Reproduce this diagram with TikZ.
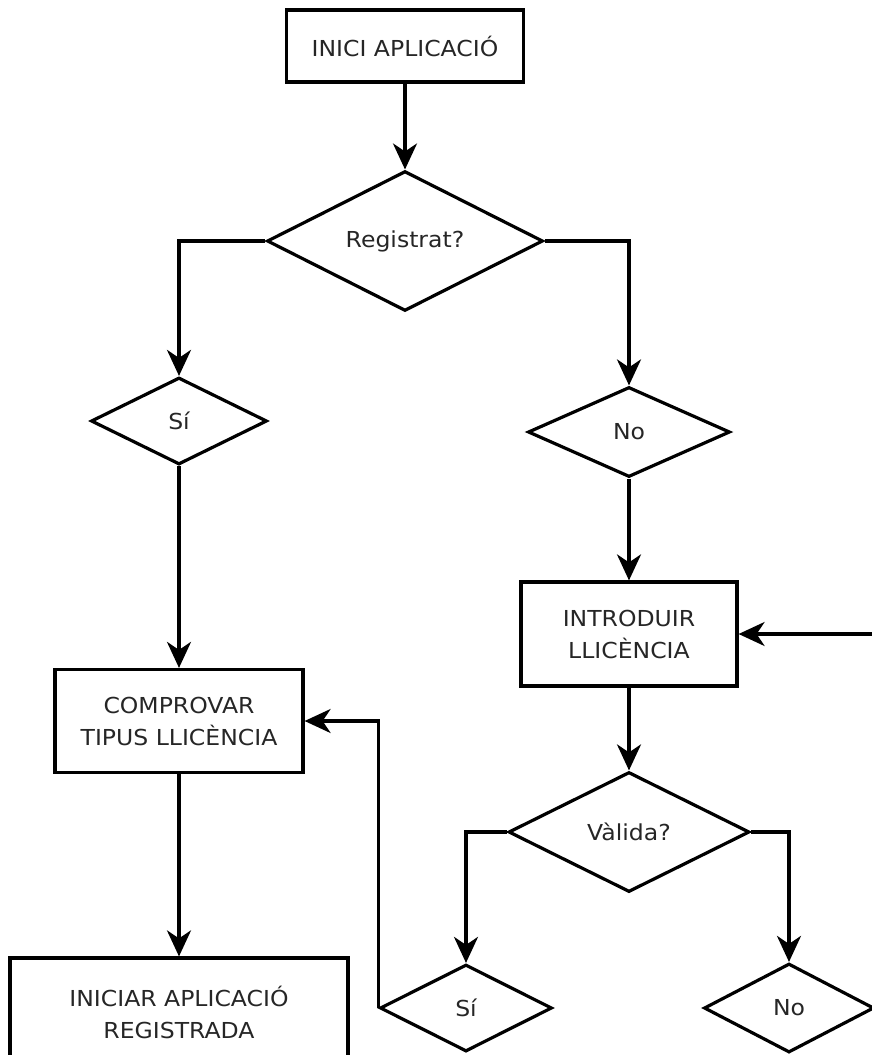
\documentclass[tikz,border=0pt]{standalone}
\usepackage{fontspec}
\setmainfont{DejaVu Sans}[FakeStretch=1.07]
\usetikzlibrary{shapes.geometric,positioning,arrows.meta}

\begin{document}
\begin{tikzpicture}[x=1pt,y=-1pt,node distance=2cm,on grid,
    line width=3.2pt,
    every node/.style={text=black!85,font=\fontsize{22}{32}\selectfont,align=center},
    box/.style={draw,rectangle,inner sep=0pt},
    choice/.style={draw,diamond,inner sep=0pt},
    >={Stealth[length=26pt,width=24pt,inset=8pt]}]
    \useasboundingbox (0,0) rectangle (872,1055);
    \node[box,minimum width=237pt,minimum height=72pt] (inici) at (405,46) {INICI APLICACIÓ};
    \node[choice,minimum width=276pt,minimum height=138pt] (registrat) [below=195pt of inici] {Registrat?};
    \node[choice,minimum width=176pt,minimum height=87pt] (si_reg) [below left=180pt and 226pt of registrat] {Sí};
    \node[choice,minimum width=202pt,minimum height=90pt] (no_reg) [below right=191pt and 224pt of registrat] {No};
    \node[box,minimum width=216pt,minimum height=104pt] (introduir) [below=202pt of no_reg] {INTRODUIR\\LLICÈNCIA};
    \node[choice,minimum width=241pt,minimum height=120pt] (valida) [below=198pt of introduir] {Vàlida?};
    \node[choice,minimum width=172pt,minimum height=87pt] (si_val) [below left=176pt and 163pt of valida] {Sí};
    \node[choice,minimum width=170pt,minimum height=89pt] (no_val) [below right=176pt and 160pt of valida] {No};
    \node[box,minimum width=248pt,minimum height=103pt] (comprovar) [below=300pt of si_reg] {COMPROVAR\\TIPUS LLICÈNCIA};
    \node[box,minimum width=338pt,minimum height=108pt] (iniciar) [below=291pt of comprovar] {INICIAR APLICACIÓ\\REGISTRADA};
    \coordinate (entrada) at (872,634);
    \path[->]
    (inici) edge (registrat)
    (si_reg) edge (comprovar)
    (no_reg) edge (introduir)
    (introduir) edge (valida)
    (comprovar) edge (iniciar)
    (entrada) edge (introduir.east);
    \draw[->] (registrat.west) -| (si_reg.north);
    \draw[->] (registrat.east) -| (no_reg.north);
    \draw[->] (valida.west) -| (si_val.north);
    \draw[->] (valida.east) -| (no_val.north);
    \draw[->] (si_val.west) |- (comprovar.east);
\end{tikzpicture}
\end{document}
